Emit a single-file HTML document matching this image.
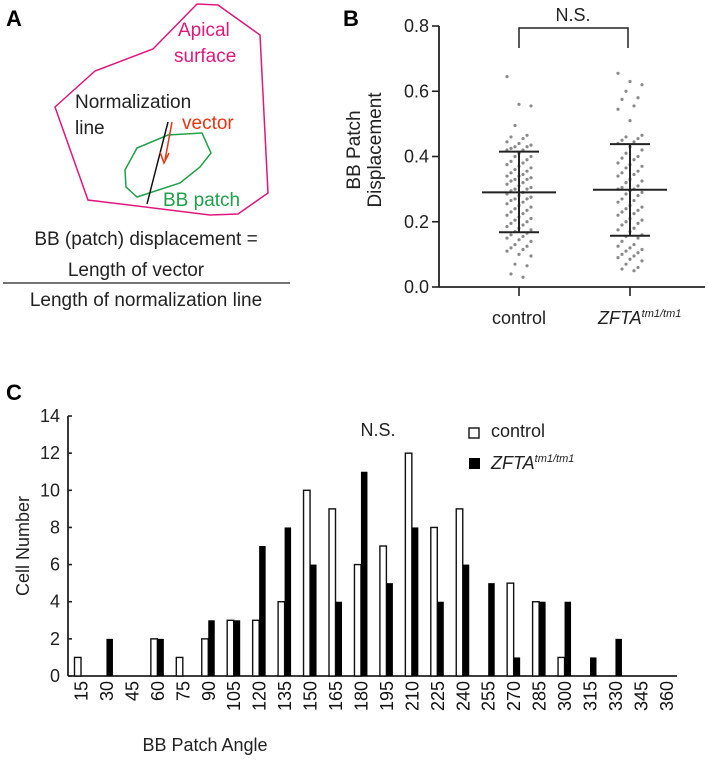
<!DOCTYPE html>
<html><head><meta charset="utf-8">
<style>
html,body{margin:0;padding:0;background:#fff;}
svg{display:block;font-family:"Liberation Sans",Arial,sans-serif;}
</style></head>
<body>
<svg id="fig" width="708" height="760" viewBox="0 0 708 760">
<g>
  <text x="6" y="26" font-size="22" font-weight="bold">A</text>
  <polygon points="55,107 95,71 153,49 197,4 218,5 260,35 268,193 238,214 210,215 88,200" fill="none" stroke="#e0187c" stroke-width="1.5"/>
  <polygon points="125,170 137,148 168,135 202,133 211,153 200,167 180,183 137,197 126,187" fill="none" stroke="#1fa04a" stroke-width="1.5"/>
  <line x1="168" y1="122" x2="147" y2="204" stroke="#111" stroke-width="1.5"/>
  <line x1="172" y1="122" x2="165" y2="160" stroke="#e63312" stroke-width="1.5"/>
  <polyline points="160,152 164,163 169,153" fill="none" stroke="#e63312" stroke-width="1.5"/>
  <text x="178" y="36" font-size="19" fill="#e0187c">Apical</text>
  <text x="174" y="62" font-size="19" fill="#e0187c">surface</text>
  <text x="75" y="108" font-size="19" fill="#222">Normalization</text>
  <text x="75" y="134" font-size="19" fill="#222">line</text>
  <text x="182" y="129" font-size="19" fill="#e63312">vector</text>
  <text x="163" y="206" font-size="19" fill="#1fa04a">BB patch</text>
  <text x="146" y="245" font-size="19" fill="#222" text-anchor="middle">BB (patch) displacement =</text>
  <text x="136" y="276" font-size="19" fill="#222" text-anchor="middle">Length of vector</text>
  <line x1="3" y1="283" x2="290" y2="283" stroke="#222" stroke-width="1.2"/>
  <text x="146" y="306" font-size="19" fill="#222" text-anchor="middle">Length of normalization line</text>
</g>
<g id="pb">
  <text x="343" y="26" font-size="22" font-weight="bold">B</text>
</g>
<g id="pc">
  <text x="6" y="400" font-size="22" font-weight="bold">C</text>
</g>
</svg>
<script>
// ---------- Panel B data ----------
const bGroups = ["control", "ZFTA"];
const bMeans = [0.29, 0.298];
const bSdLow = [0.168, 0.157];
const bSdHigh = [0.415, 0.438];
const bControlPts = [0.645,0.56,0.555,0.495,0.465,0.46,0.455,0.445,0.44,0.435,0.43,0.43,0.425,0.42,0.42,0.41,0.40,0.40,0.39,0.385,0.38,0.375,0.37,0.365,0.36,0.355,0.35,0.345,0.34,0.34,0.335,0.33,0.33,0.325,0.32,0.315,0.31,0.305,0.30,0.30,0.295,0.29,0.285,0.28,0.275,0.27,0.27,0.265,0.26,0.255,0.25,0.245,0.24,0.235,0.23,0.225,0.22,0.215,0.21,0.205,0.20,0.195,0.19,0.185,0.18,0.175,0.17,0.165,0.16,0.155,0.15,0.145,0.14,0.13,0.125,0.12,0.115,0.11,0.10,0.095,0.07,0.065,0.04,0.03];
const bZftaPts = [0.655,0.63,0.62,0.60,0.58,0.575,0.555,0.545,0.51,0.465,0.46,0.455,0.45,0.445,0.44,0.43,0.42,0.41,0.40,0.395,0.39,0.38,0.375,0.37,0.365,0.355,0.35,0.345,0.34,0.33,0.325,0.32,0.31,0.305,0.30,0.30,0.295,0.29,0.285,0.28,0.27,0.265,0.26,0.25,0.245,0.24,0.235,0.23,0.225,0.22,0.21,0.205,0.20,0.195,0.19,0.18,0.175,0.17,0.16,0.155,0.15,0.14,0.13,0.125,0.12,0.115,0.11,0.105,0.10,0.095,0.09,0.085,0.08,0.07,0.06,0.055,0.05];
const bTicks = [0.0, 0.2, 0.4, 0.6, 0.8];

// ---------- Panel C data ----------
const cAngles = [15,30,45,60,75,90,105,120,135,150,165,180,195,210,225,240,255,270,285,300,315,330,345,360];
const cControl = [1,0,0,2,1,2,3,3,4,10,9,6,7,12,8,9,0,5,4,1,0,0,0,0];
const cZfta = [0,2,0,2,0,3,3,7,8,6,4,11,5,8,4,6,5,1,4,4,1,2,0,0];
const cTicks = [0,2,4,6,8,10,12,14];

const NS = "http://www.w3.org/2000/svg";
function mk(parent, tag, attrs, txt){
  const e = document.createElementNS(NS, tag);
  for (const k in attrs) e.setAttribute(k, attrs[k]);
  if (txt !== undefined) e.textContent = txt;
  parent.appendChild(e);
  return e;
}

// ===== Panel B =====
const pb = document.getElementById('pb');
const bx0 = 439, bxEnd = 705, by0 = 287, bPerUnit = 326.25;
const bY = v => by0 - v * bPerUnit;
const bX = [519, 630];
let e;
e = mk(pb, 'line', {x1:bx0, y1:bY(0.8), x2:bx0, y2:by0, stroke:'#222', 'stroke-width':1.8});


e = mk(pb, 'line', {x1:bx0, y1:by0, x2:bxEnd, y2:by0, stroke:'#222', 'stroke-width':1.8});


bTicks.forEach(t => {
  const y = bY(t);
  e = mk(pb, 'line', {x1:bx0-7, y1:y, x2:bx0, y2:y, stroke:'#222', 'stroke-width':1.6});
  
  
  e = mk(pb, 'text', {x:bx0-10, y:y+6, 'font-size':18, 'text-anchor':'end', fill:'#222'}, t.toFixed(1));
  
  
});
e = mk(pb, 'text', {'font-size':19, fill:'#222', 'text-anchor':'middle', transform:'translate(360,150) rotate(-90)'});


mk(e, 'tspan', {x:0, y:0}, 'BB Patch');
mk(e, 'tspan', {x:0, y:21}, 'Displacement');
bX.forEach(x => {
  e = mk(pb, 'line', {x1:x, y1:by0, x2:x, y2:by0+9, stroke:'#222', 'stroke-width':1.6});
  
  
});
e = mk(pb, 'text', {x:519, y:324, 'font-size':18, fill:'#222', 'text-anchor':'middle'}, 'control');


e = mk(pb, 'text', {x:598, y:324, 'font-size':18, fill:'#222', 'font-style':'italic'});


mk(e, 'tspan', {}, 'ZFTA');
mk(e, 'tspan', {'font-size':11, dy:-7}, 'tm1/tm1');
// dots
[bControlPts, bZftaPts].forEach((pts, gi) => {
  const off = [-12,-8,-4,0,4,8,12];
  pts.forEach((v, i) => {
    const o = off[(i * 3) % off.length];
    e = mk(pb, 'circle', {cx:bX[gi] + o, cy:bY(v), r:1.6, fill:'#8a8a8a'});
    
    
  });
});
// mean and SD
bX.forEach((x, gi) => {
  e = mk(pb, 'line', {x1:x, y1:bY(bSdLow[gi]), x2:x, y2:bY(bSdHigh[gi]), stroke:'#222', 'stroke-width':2});
  
  
  [bSdLow[gi], bSdHigh[gi]].forEach(v => {
    e = mk(pb, 'line', {x1:x-20, y1:bY(v), x2:x+20, y2:bY(v), stroke:'#222', 'stroke-width':2});
    
    
  });
  e = mk(pb, 'line', {x1:x-37, y1:bY(bMeans[gi]), x2:x+37, y2:bY(bMeans[gi]), stroke:'#222', 'stroke-width':2});
  
  
});
e = mk(pb, 'polyline', {points:`519,48 519,28 628,28 628,48`, fill:'none', stroke:'#222', 'stroke-width':1.5});


e = mk(pb, 'text', {x:573, y:21, 'font-size':18, fill:'#222', 'text-anchor':'middle'}, 'N.S.');



// ===== Panel C =====
const pc = document.getElementById('pc');
const cx0 = 68, cxEnd = 677, cy0 = 676, cPerUnit = 18.57;
const cY = v => cy0 - v * cPerUnit;
const cXc = i => 81 + i * 25.45;
const bw = 6.5;
e = mk(pc, 'line', {x1:cx0, y1:cY(14), x2:cx0, y2:cy0, stroke:'#222', 'stroke-width':1.8});


e = mk(pc, 'line', {x1:cx0, y1:cy0, x2:cxEnd, y2:cy0, stroke:'#222', 'stroke-width':1.8});


cTicks.forEach(t => {
  const y = cY(t);
  e = mk(pc, 'line', {x1:cx0, y1:y, x2:cx0+4, y2:y, stroke:'#222', 'stroke-width':1.6});
  
  
  e = mk(pc, 'text', {x:cx0-8, y:y+6, 'font-size':18, 'text-anchor':'end', fill:'#222'}, String(t));
  
  
});
e = mk(pc, 'text', {'font-size':18, fill:'#222', 'text-anchor':'middle', transform:'translate(29,546) rotate(-90)'}, 'Cell Number');


cAngles.forEach((a, i) => {
  const x = cXc(i);
  if (cControl[i] > 0) {
    e = mk(pc, 'rect', {x:x-bw, y:cY(cControl[i]), width:bw, height:cControl[i]*cPerUnit, fill:'#fff', stroke:'#111', 'stroke-width':1.4});
    
    
  }
  if (cZfta[i] > 0) {
    e = mk(pc, 'rect', {x:x, y:cY(cZfta[i]), width:bw, height:cZfta[i]*cPerUnit, fill:'#000'});
    
    
  }
  e = mk(pc, 'text', {'font-size':18, fill:'#111', 'text-anchor':'end', transform:`translate(${x+6.5},681) rotate(-90)`}, String(a));
  
  
});
e = mk(pc, 'text', {x:205, y:751, 'font-size':18, fill:'#222', 'text-anchor':'middle'}, 'BB Patch Angle');


e = mk(pc, 'text', {x:378, y:436, 'font-size':18, fill:'#222', 'text-anchor':'middle'}, 'N.S.');


e = mk(pc, 'rect', {x:469, y:428, width:10, height:10, fill:'#fff', stroke:'#111', 'stroke-width':1.4});


e = mk(pc, 'text', {x:491, y:437, 'font-size':18, fill:'#222'}, 'control');


e = mk(pc, 'rect', {x:469, y:458, width:11, height:11, fill:'#000'});


e = mk(pc, 'text', {x:491, y:469, 'font-size':18, fill:'#222', 'font-style':'italic'});


mk(e, 'tspan', {}, 'ZFTA');
mk(e, 'tspan', {'font-size':11, dy:-7}, 'tm1/tm1');
</script>
</body></html>
